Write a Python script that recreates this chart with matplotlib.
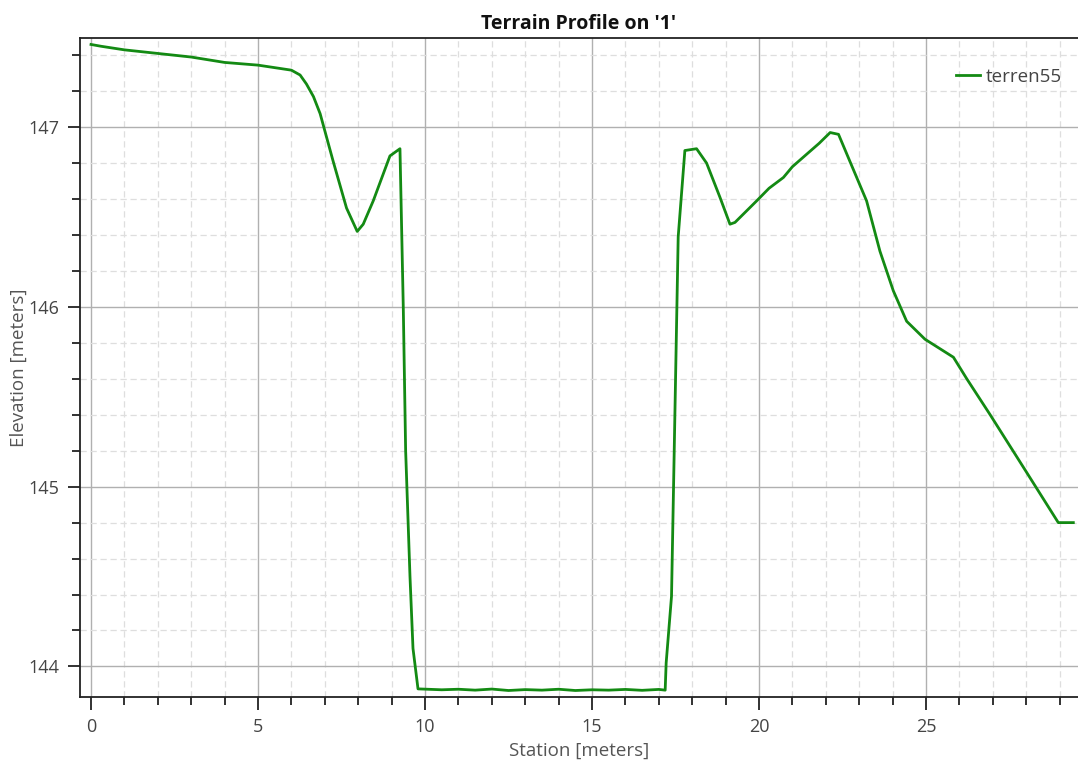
import matplotlib
matplotlib.use("Agg")
import matplotlib.pyplot as plt
from matplotlib.ticker import MultipleLocator

plt.rcParams['font.family'] = ['Open Sans', 'DejaVu Sans']

station = [0.0, 0.3, 1.0, 2.0, 3.0, 4.0, 5.0, 6.0, 6.26, 6.45, 6.66, 6.86, 7.25, 7.65,
           7.97, 8.15, 8.45, 8.95, 9.25, 9.35, 9.42, 9.55, 9.64, 9.79,
           10.5, 11.0, 11.5, 12.0, 12.5, 13.0, 13.5, 14.0, 14.5, 15.0, 15.5, 16.0, 16.5, 17.0, 17.19,
           17.22, 17.38, 17.58, 17.78, 18.13, 18.43, 18.83, 19.13, 19.28, 19.93, 20.3, 20.73,
           21.0, 21.43, 21.8, 22.13, 22.38, 22.72, 23.22, 23.62, 24.02, 24.42, 24.97, 25.82,
           26.22, 26.92, 28.01, 28.96, 29.41]
elevation = [147.46, 147.45, 147.43, 147.41, 147.39, 147.36, 147.345, 147.317, 147.29, 147.24, 147.17,
             147.075, 146.81, 146.55, 146.42, 146.46, 146.59, 146.84, 146.88, 145.99, 145.2, 144.5,
             144.1, 143.875, 143.87, 143.873, 143.868, 143.874, 143.866, 143.871, 143.868, 143.873,
             143.866, 143.87, 143.868, 143.872, 143.867, 143.872, 143.868,
             144.02, 144.39, 146.39, 146.87, 146.88, 146.80, 146.61, 146.46, 146.47, 146.59, 146.66,
             146.72, 146.78, 146.85, 146.91, 146.97, 146.96, 146.81, 146.59, 146.31, 146.09, 145.92,
             145.82, 145.72, 145.60, 145.40, 145.08, 144.80, 144.80]

fig = plt.figure(figsize=(10.78, 7.67), dpi=100)
ax = fig.add_axes([0.0742, 0.0913, 0.9258, 0.8587])

ax.plot(station, elevation, color='#138a13', lw=2.0, label='terren55', zorder=3)

ax.set_xlim(-0.33, 29.55)
ax.set_ylim(143.83, 147.494)
ax.xaxis.set_major_locator(MultipleLocator(5))
ax.xaxis.set_minor_locator(MultipleLocator(1))
ax.yaxis.set_major_locator(MultipleLocator(1))
ax.yaxis.set_minor_locator(MultipleLocator(0.2))

ax.grid(which='major', color='#b0b0b0', lw=1.0, ls='-')
ax.grid(which='minor', color='#dedede', lw=0.9, ls=(0, (5, 3)))
ax.set_axisbelow(True)

for s in ['left', 'bottom', 'top']:
    ax.spines[s].set_color('#222222')
    ax.spines[s].set_linewidth(1.3)
ax.spines['right'].set_visible(False)

ax.tick_params(which='major', direction='out', length=9, width=1.3, color='#222222',
               labelsize=13, labelcolor='#444444', pad=6)
ax.tick_params(which='minor', direction='out', length=6, width=1.3, color='#222222')

ax.set_title("Terrain Profile on '1'", fontsize=14, fontweight='bold', color='#111111', pad=7)
ax.set_xlabel('Station [meters]', fontsize=13.5, color='#555555', labelpad=4)
ax.set_ylabel('Elevation [meters]', fontsize=13.5, color='#555555', labelpad=0)

leg = ax.legend(loc='upper right', bbox_to_anchor=(1.01, 0.995), frameon=False, fontsize=13.5,
                handlelength=1.3, handletextpad=0.3, borderaxespad=1.0)
for t in leg.get_texts():
    t.set_color('#444444')

fig.savefig('out.png', dpi=100)
